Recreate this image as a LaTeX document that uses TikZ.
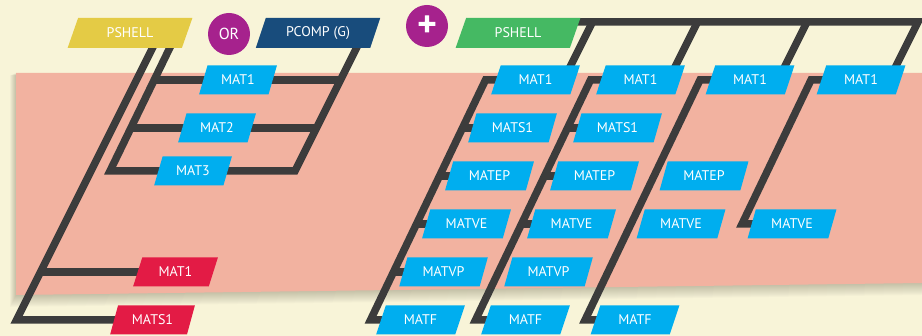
\documentclass[tikz,border=0pt]{standalone}
\usepackage{fontspec}
\setmainfont{PT Sans}
\newfontfamily\heavyfont[FakeBold=4]{PT Sans}
\usetikzlibrary{shapes.geometric, positioning, calc}
\definecolor{cream}{HTML}{F8F4D8}
\definecolor{salmon}{HTML}{F2B2A0}
\definecolor{skyblue}{HTML}{00AEEF}
\definecolor{mustard}{HTML}{E4CB45}
\definecolor{navy}{HTML}{184C7C}
\definecolor{leaf}{HTML}{45B963}
\definecolor{plum}{HTML}{A6228D}
\definecolor{crimson}{HTML}{E31B45}
\definecolor{lead}{HTML}{3C3C3C}
\tikzstyle{tag} = [trapezium, trapezium left angle=65, trapezium right angle=115, trapezium stretches=true, minimum width=89pt, minimum height=29pt, inner sep=0pt, text=white, fill=skyblue, font=\fontsize{14}{16}\selectfont]
\tikzstyle{tagl} = [tag, minimum width=78pt]
\tikzstyle{tagr} = [tag, minimum width=85pt, fill=crimson]
\tikzstyle{head} = [tag, minimum width=125pt, minimum height=30pt]
\tikzstyle{badge} = [circle, fill=plum, minimum size=42pt, inner sep=0pt, text=white]
\tikzstyle{wire} = [line width=7.5pt, draw=lead]
\pgfdeclarelayer{back}
\pgfsetlayers{back,main}

\begin{document}
\begin{tikzpicture}[x=1pt, y=1pt, node distance=48pt]
\useasboundingbox (0,0) rectangle (922,336);
% headers
\node (psy) [head, fill=mustard] at (130,303) {PSHELL};
\node (or) [badge] at (229,302) {\fontsize{16}{18}\selectfont OR};
\node (pcomp) [head, fill=navy] at (318,303) {PCOMP (G)};
\node (plus) [badge] at (427,310) {\heavyfont\fontsize{36}{36}\selectfont +};
\node (psg) [head, fill=leaf] at (518,303) {PSHELL};
% left group
\node (mat1l) [tagl] at (238,256) {MAT1};
\node (mat2l) [tagl, below of=mat1l, xshift=-21pt] {MAT2};
\node (mat3l) [tagl, below of=mat2l, xshift=-24pt, yshift=5pt] {MAT3};
\node (mat1r) [tagr] at (175.5,64) {MAT1};
\node (mats1r) [tagr, below of=mat1r, xshift=-23pt] {MATS1};
% right group, column a
\node (m1a) [tag] at (535.5,256) {MAT1};
\node (msa) [tag, below of=m1a, xshift=-23pt] {MATS1};
\node (mea) [tag, below of=msa, xshift=-23pt] {MATEP};
\node (mva) [tag, below of=mea, xshift=-23pt] {MATVE};
\node (mpa) [tag, below of=mva, xshift=-23pt] {MATVP};
\node (mfa) [tag, below of=mpa, xshift=-23pt] {MATF};
% column b
\node (m1b) [tag] at (640.5,256) {MAT1};
\node (msb) [tag, below of=m1b, xshift=-23pt] {MATS1};
\node (meb) [tag, below of=msb, xshift=-23pt] {MATEP};
\node (mvb) [tag, below of=meb, xshift=-23pt] {MATVE};
\node (mpb) [tag, below of=mvb, xshift=-23pt] {MATVP};
\node (mfb) [tag, below of=mpb, xshift=-23pt] {MATF};
% column c
\node (m1c) [tag] at (750,256) {MAT1};
\node (mec) [tag, below of=m1c, yshift=-48pt, xshift=-46pt] {MATEP};
\node (mvc) [tag, below of=mec, xshift=-23pt] {MATVE};
\node (mfc) [tag, below of=mvc, yshift=-48pt, xshift=-46pt] {MATF};
% column d
\node (m1d) [tag] at (861,256) {MAT1};
\node (mvd) [tag, below of=m1d, yshift=-96pt, xshift=-69pt] {MATVE};

\begin{pgfonlayer}{back}
\fill[cream] (0,0) rectangle (922,336);
\foreach \k in {1,...,12}
  \fill[black!70!olive, opacity=0.025] (16-\k*0.5,263-\k*0.2) -- (922,263-\k*0.2) -- (922,53-\k) -- (16-\k*0.5,41-\k) -- cycle;
\fill[salmon] (16,263) -- (922,263) -- (922,53) -- (16,41) -- cycle;
% left group
\draw[wire] ($(psy.center)+(30,0)$) -- ($(mats1r.center)+(-136,0)$) -- (mats1r.center);
\draw[wire] (mat1r.center) -- ++(-137,0);
\draw[wire] ($(psy.center)+(47,0)$) -- ($(mat3l.center)+(-83,0)$) -- (mat3l.center) -- ($(mat3l.center)+(102,0)$) -- ($(pcomp.center)+(46,0)$);
\draw[wire] (mat1l.center) -- ++(-85,0) (mat1l.center) -- ++(103,0);
\draw[wire] (mat2l.center) -- ++(-87,0) (mat2l.center) -- ++(100,0);
% right group
\draw[wire] ([yshift=11pt]psg.center) -- ($(m1d.center)+(57,58)$) -- ($(m1d.center)+(28,0)$);
\foreach \c in {a,b,c}
  \draw[wire] ($(m1\c.center)+(28,0)$) -- ++(29,58);
\foreach \c in {a,b,c}
  \draw[wire] (m1\c.center) -- ++(-50,0) -- ($(mf\c.center)+(-50,0)$) -- (mf\c.center);
\draw[wire] (m1d.center) -- ++(-50,0) -- ($(mvd.center)+(-50,0)$) -- (mvd.center);
\foreach \n in {msa,mea,mva,mpa,msb,meb,mvb}
  \draw[wire] (\n.center) -- ++(-50,0);
\end{pgfonlayer}
\end{tikzpicture}
\end{document}
